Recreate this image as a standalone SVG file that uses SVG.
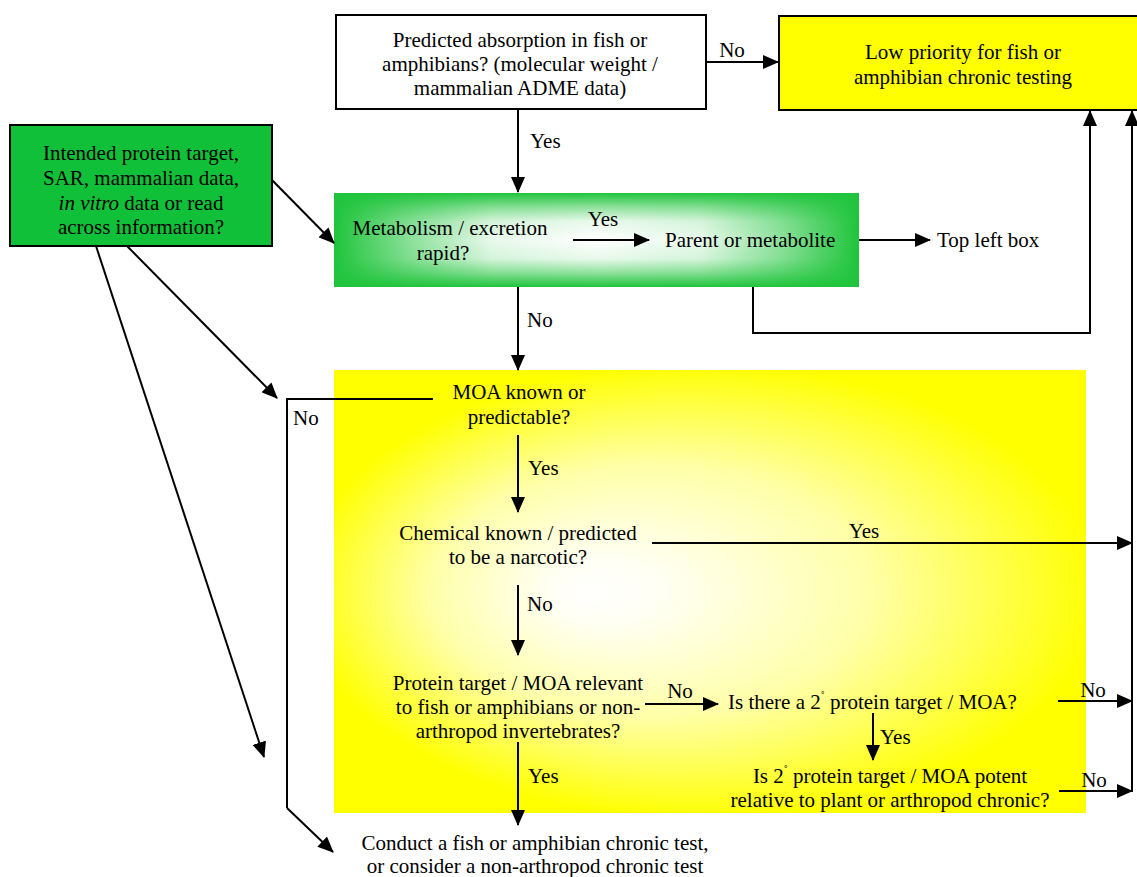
<svg xmlns="http://www.w3.org/2000/svg" width="1137" height="877" viewBox="0 0 1137 877">
<defs>
<style>
text{font-family:"Liberation Serif","DejaVu Serif",serif;font-size:21px;fill:#000}
.c{text-anchor:middle}
.ln{stroke:#000;stroke-width:2;fill:none}
.ar{stroke:#000;stroke-width:2;fill:none;marker-end:url(#ah)}
</style>
<marker id="ah" markerUnits="userSpaceOnUse" markerWidth="16" markerHeight="14" refX="15" refY="7" orient="auto">
<path d="M0,0 L16,7 L0,14 Z" fill="#000"/>
</marker>
<linearGradient id="gv" x1="0" y1="0" x2="0" y2="1">
<stop offset="0" stop-color="#1FC43B"/>
<stop offset="0.15" stop-color="#1FC43B" stop-opacity="0.5"/>
<stop offset="0.3" stop-color="#1FC43B" stop-opacity="0.1"/>
<stop offset="0.5" stop-color="#1FC43B" stop-opacity="0"/>
<stop offset="0.7" stop-color="#1FC43B" stop-opacity="0.1"/>
<stop offset="0.85" stop-color="#1FC43B" stop-opacity="0.5"/>
<stop offset="1" stop-color="#1FC43B"/>
</linearGradient>
<linearGradient id="gh" x1="0" y1="0" x2="1" y2="0">
<stop offset="0" stop-color="#1FC43B"/>
<stop offset="0.15" stop-color="#1FC43B" stop-opacity="0.5"/>
<stop offset="0.3" stop-color="#1FC43B" stop-opacity="0.1"/>
<stop offset="0.5" stop-color="#1FC43B" stop-opacity="0"/>
<stop offset="0.7" stop-color="#1FC43B" stop-opacity="0.1"/>
<stop offset="0.85" stop-color="#1FC43B" stop-opacity="0.5"/>
<stop offset="1" stop-color="#1FC43B"/>
</linearGradient>
<radialGradient id="yg" gradientUnits="userSpaceOnUse" cx="0" cy="0" r="1" fx="-0.275" fy="0" gradientTransform="translate(700,591) scale(400,228)">
<stop offset="0" stop-color="#FFFFFF"/>
<stop offset="0.15" stop-color="#FFFFF2"/>
<stop offset="0.55" stop-color="#FFFFA8"/>
<stop offset="0.9" stop-color="#FFFF25"/>
<stop offset="1" stop-color="#FFFF00"/>
</radialGradient>
</defs>
<rect width="1137" height="877" fill="#FFFFFF"/>

<g id="yellow-region">
<rect x="334" y="370" width="752" height="443" fill="url(#yg)"/>
</g>

<g id="node-absorption">
<rect x="336" y="15" width="370" height="94" fill="#FFFFFF" stroke="#000" stroke-width="2"/>
<text class="c" x="520" y="47">Predicted absorption in fish or</text>
<text class="c" x="520" y="71">amphibians? (molecular weight /</text>
<text class="c" x="520" y="95">mammalian ADME data)</text>
</g>

<g id="node-low-priority">
<rect x="779" y="16" width="370" height="94" fill="#FFFF00" stroke="#000" stroke-width="2"/>
<text class="c" x="963" y="59">Low priority for fish or</text>
<text class="c" x="963" y="84">amphibian chronic testing</text>
</g>

<g id="node-intended">
<rect x="10" y="125" width="262" height="121" fill="#10C038" stroke="#000" stroke-width="2"/>
<text class="c" x="141" y="160">Intended protein target,</text>
<text class="c" x="141" y="185">SAR, mammalian data,</text>
<text class="c" x="141" y="210"><tspan font-style="italic">in vitro</tspan> data or read</text>
<text class="c" x="141" y="234">across information?</text>
</g>

<g id="node-metabolism">
<rect x="334" y="193" width="525" height="94" fill="#FFFFFF"/>
<rect x="334" y="193" width="525" height="94" fill="url(#gv)"/>
<rect x="334" y="193" width="525" height="94" fill="url(#gh)"/>
<text class="c" x="450" y="235">Metabolism / excretion</text>
<text class="c" x="443" y="260">rapid?</text>
</g>

<g id="node-parent">
<text x="665" y="247">Parent or metabolite</text>
</g>

<g id="node-topleft">
<text x="937" y="247">Top left box</text>
</g>

<g id="node-moa">
<text class="c" x="519" y="399">MOA known or</text>
<text class="c" x="519" y="424">predictable?</text>
</g>

<g id="node-narcotic">
<text class="c" x="518" y="540">Chemical known / predicted</text>
<text class="c" x="518" y="564">to be a narcotic?</text>
</g>

<g id="node-relevant">
<text class="c" x="518" y="690">Protein target / MOA relevant</text>
<text class="c" x="518" y="714">to fish or amphibians or non-</text>
<text class="c" x="518" y="738">arthropod invertebrates?</text>
</g>

<g id="node-secondary">
<text x="728" y="709">Is there a 2<tspan font-size="12" dy="-9">˚</tspan><tspan dy="9"> protein target / MOA?</tspan></text>
</g>

<g id="node-potent">
<text class="c" x="890" y="783">Is 2<tspan font-size="12" dy="-9">˚</tspan><tspan dy="9"> protein target / MOA potent</tspan></text>
<text class="c" x="890" y="807">relative to plant or arthropod chronic?</text>
</g>

<g id="node-conduct">
<text class="c" x="535" y="850">Conduct a fish or amphibian chronic test,</text>
<text class="c" x="535" y="873">or consider a non-arthropod chronic test</text>
</g>

<g id="connectors">
<line class="ar" x1="706" y1="62" x2="778" y2="62"/>
<text class="c" x="732" y="57">No</text>
<line class="ar" x1="518" y1="109" x2="518" y2="192"/>
<text x="530" y="148">Yes</text>
<line class="ar" x1="272" y1="180" x2="334" y2="243"/>
<line class="ar" x1="127" y1="246" x2="277" y2="398"/>
<line class="ar" x1="96" y1="246" x2="264" y2="757"/>
<line class="ar" x1="573" y1="240" x2="649" y2="240"/>
<text class="c" x="603" y="226">Yes</text>
<line class="ar" x1="859" y1="240" x2="930" y2="240"/>
<polyline class="ln" points="753,287 753,333 1090,333"/>
<line class="ar" x1="1090" y1="334" x2="1090" y2="111"/>
<line class="ar" x1="1132" y1="792" x2="1132" y2="111"/>
<line class="ar" x1="518" y1="287" x2="518" y2="370"/>
<text x="527" y="327">No</text>
<polyline class="ln" points="433,399 287,399 287,808"/>
<line class="ar" x1="287" y1="808" x2="333" y2="852"/>
<text x="293" y="425">No</text>
<line class="ar" x1="518" y1="435" x2="518" y2="512"/>
<text x="528" y="475">Yes</text>
<line class="ar" x1="652" y1="543" x2="1132" y2="543"/>
<text class="c" x="864" y="538">Yes</text>
<line class="ar" x1="518" y1="585" x2="518" y2="655"/>
<text x="527" y="611">No</text>
<line class="ar" x1="645" y1="704" x2="718" y2="704"/>
<text class="c" x="680" y="698">No</text>
<line class="ar" x1="1058" y1="701" x2="1132" y2="701"/>
<text class="c" x="1093" y="697">No</text>
<line class="ar" x1="873" y1="713" x2="873" y2="760"/>
<text x="880" y="744">Yes</text>
<line class="ar" x1="1059" y1="791" x2="1132" y2="791"/>
<text class="c" x="1094" y="787">No</text>
<line class="ar" x1="518" y1="742" x2="518" y2="825"/>
<text x="528" y="783">Yes</text>
</g>
</svg>
